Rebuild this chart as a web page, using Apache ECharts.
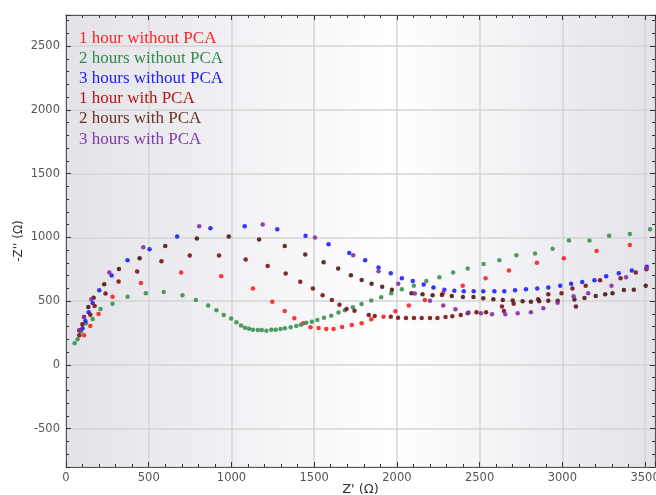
<!DOCTYPE html>
<html>
<head>
<meta charset="utf-8">
<script src="https://cdn.jsdelivr.net/npm/echarts@6/dist/echarts.min.js"></script>
<style>html,body{margin:0;padding:0;background:#fff;}#c{width:656px;height:495px;}</style>
</head>
<body>
<div id="c"></div>
<script>
// Series names
const seriesNames = ['1 hour without PCA','2 hours without PCA','3 hours without PCA','1 hour with PCA','2 hours with PCA','3 hours with PCA'];

// [Z', -Z''] points
const oneHourNoPCA = [[109,233],[147,306],[197,400],[281,536],[453,644],[696,725],[938,696],[1130,599],[1247,497],[1322,424],[1380,367],[1434,327],[1478,296],[1527,290],[1573,283],[1617,283],[1669,298],[1727,313],[1787,327],[1845,358],[1919,379],[1991,421],[2072,466],[2169,510],[2278,562],[2398,622],[2536,681],[2677,741],[2846,801],[3009,838],[3207,895],[3408,942]];

const twoHoursNoPCA = [[52,170],[70,201],[92,262],[121,327],[161,361],[209,440],[281,481],[372,536],[483,563],[591,573],[704,547],[785,510],[859,466],[909,429],[953,392],[998,364],[1030,335],[1058,309],[1082,293],[1106,285],[1130,277],[1159,275],[1183,275],[1211,269],[1241,277],[1267,277],[1296,283],[1323,288],[1358,296],[1392,306],[1420,316],[1452,332],[1486,340],[1519,353],[1559,371],[1603,387],[1647,411],[1686,429],[1734,452],[1786,479],[1845,505],[1905,531],[1965,563],[2030,594],[2102,622],[2178,659],[2257,688],[2340,725],[2428,756],[2524,793],[2619,822],[2722,861],[2835,874],[2941,911],[3040,976],[3164,976],[3283,1013],[3408,1028],[3530,1065]];

const threeHoursNoPCA = [[100,288],[117,345],[137,414],[161,487],[201,586],[276,701],[372,821],[505,908],[672,1007],[873,1073],[1080,1089],[1277,1065],[1448,1013],[1587,947],[1712,879],[1808,822],[1889,764],[1963,720],[2030,681],[2096,659],[2162,631],[2221,607],[2287,591],[2347,583],[2404,578],[2464,578],[2522,578],[2589,578],[2649,578],[2714,586],[2780,594],[2848,599],[2915,607],[2987,622],[3053,638],[3120,651],[3194,665],[3265,696],[3341,720],[3420,741],[3510,770]];

const oneHourPCA = [[80,233],[99,319],[147,395],[173,463],[239,561],[318,654],[430,733],[577,814],[748,858],[925,858],[1086,827],[1219,777],[1328,717],[1416,652],[1492,599],[1551,547],[1607,510],[1653,473],[1696,440],[1744,426],[1830,392],[1866,385],[1963,378],[2007,370],[2055,369],[2103,369],[2150,369],[2200,369],[2245,369],[2294,376],[2335,383],[2386,392],[2428,405],[2481,413],[2539,414],[2635,458],[2647,424],[2706,481],[2854,516],[2915,555],[2995,563],[3061,599],[3141,622],[3228,665],[3352,681],[3444,725],[3508,751]];

const twoHoursPCA = [[81,272],[109,377],[135,455],[167,528],[231,633],[320,753],[445,837],[600,934],[791,992],[984,1007],[1167,984],[1322,934],[1446,866],[1557,806],[1645,756],[1722,704],[1787,666],[1847,638],[1911,613],[1970,590],[2088,563],[2155,555],[2216,547],[2272,549],[2332,541],[2399,534],[2463,533],[2522,524],[2583,516],[2640,510],[2700,505],[2760,499],[2810,497],[2860,499],[2915,504],[2972,504],[3073,513],[3082,458],[3134,526],[3202,542],[3259,555],[3303,563],[3372,589],[3432,591],[3504,622]];

const threeHoursPCA = [[80,270],[109,377],[153,516],[262,725],[467,924],[805,1089],[1189,1101],[1505,1000],[1736,861],[1889,735],[2008,638],[2108,560],[2200,503],[2280,466],[2354,438],[2433,411],[2508,406],[2575,398],[2655,398],[2730,406],[2810,414],[2885,445],[2971,489],[3068,539],[3156,563],[3297,622],[3385,688],[3508,759]];

// Axis settings
const xRange = [0, 3560];
const yRange = [-800, 2745];
const majorStep = 500;

const allData = [oneHourNoPCA, twoHoursNoPCA, threeHoursNoPCA, oneHourPCA, twoHoursPCA, threeHoursPCA];
const markerColors = ['#ff1f1f','#3c9152','#1f1fff','#7a1212','#4e1a12','#8a2ea6'];
const legendColors = ['#ff2424','#2f8a4c','#2020ff','#b81414','#6a3222','#7d3aa8'];

const chart = echarts.init(document.getElementById('c'), null, {renderer: 'canvas'});

const labelFmt = v => (Math.abs(v % majorStep) < 1e-6 ? String(v) : '');
const axisCommon = {
  type: 'value',
  minInterval: majorStep,
  maxInterval: majorStep,
  axisLine: {show: true, onZero: false, lineStyle: {color: '#555', width: 1}},
  axisTick: {show: true, inside: true, length: 5, lineStyle: {color: '#333', width: 1}},
  minorTick: {show: true, splitNumber: 5, length: 3, lineStyle: {color: '#333', width: 1}}
};

const option = {
  animation: false,
  backgroundColor: '#ffffff',
  grid: {
    left: 66, right: 1, top: 15, bottom: 28,
    containLabel: false,
    outerBoundsMode: 'none',
    show: true, borderWidth: 0,
    backgroundColor: new echarts.graphic.LinearGradient(0, 0, 1, 0, [
      {offset: 0, color: '#e2e2e8'},
      {offset: 0.45, color: '#fafafc'},
      {offset: 0.55, color: '#ffffff'},
      {offset: 0.75, color: '#f3f3f6'},
      {offset: 1, color: '#e2e2e8'}
    ])
  },
  legend: {
    orient: 'vertical', left: 69, top: 23,
    icon: 'none', itemWidth: 0, itemHeight: 14, itemGap: 0,
    selectedMode: false,
    textStyle: {fontFamily: 'Liberation Serif', fontSize: 17, lineHeight: 20.2},
    data: seriesNames.map((n, i) => ({name: n, textStyle: {color: legendColors[i]}}))
  },
  xAxis: [
    Object.assign({}, axisCommon, {
      position: 'bottom', min: xRange[0], max: xRange[1],
      name: "Z' (Ω)", nameLocation: 'middle', nameGap: 16, nameMoveOverlap: false,
      nameTextStyle: {fontFamily: 'DejaVu Sans', fontSize: 13, color: '#333', verticalAlign: 'top'},
      axisLabel: {show: true, margin: 5, formatter: labelFmt, fontFamily: 'DejaVu Sans', fontSize: 11.5, color: '#555'},
      splitLine: {show: true, lineStyle: {color: '#d4d4d4', width: 1.5}}
    }),
    Object.assign({}, axisCommon, {
      position: 'top', min: xRange[0], max: xRange[1],
      axisLabel: {show: false}, splitLine: {show: false}
    })
  ],
  yAxis: [
    Object.assign({}, axisCommon, {
      position: 'left', min: yRange[0], max: yRange[1],
      name: "-Z'' (Ω)", nameLocation: 'middle', nameGap: 41, nameMoveOverlap: false,
      nameTextStyle: {fontFamily: 'DejaVu Sans', fontSize: 12, color: '#333'},
      axisLabel: {show: true, margin: 6, formatter: labelFmt, fontFamily: 'DejaVu Sans', fontSize: 11.5, color: '#555'},
      splitLine: {show: true, lineStyle: {color: '#d4d4d4', width: 1.5}}
    }),
    Object.assign({}, axisCommon, {
      position: 'right', min: yRange[0], max: yRange[1],
      axisLabel: {show: false}, splitLine: {show: false}
    })
  ],
  series: seriesNames.map((n, i) => ({
    name: n, type: 'scatter', xAxisIndex: 0, yAxisIndex: 0,
    symbol: 'circle', symbolSize: 4.5,
    itemStyle: {color: markerColors[i], opacity: 0.9},
    data: allData[i]
  }))
};
chart.setOption(option);
</script>
</body>
</html>
